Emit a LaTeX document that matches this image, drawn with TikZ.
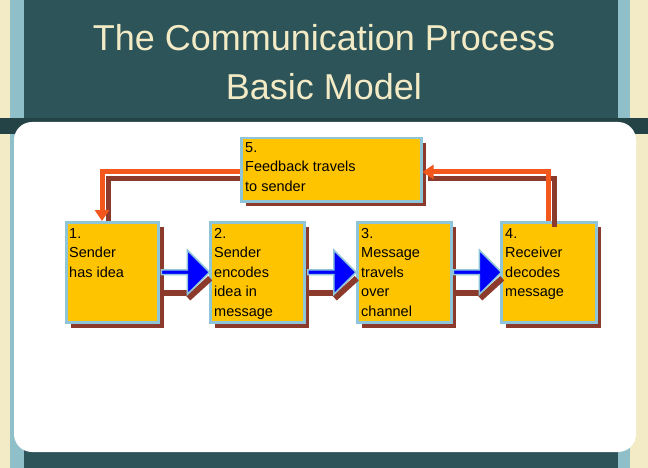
\documentclass[tikz,border=0pt]{standalone}
\usepackage{fontspec}
\setmainfont{Liberation Sans}
\usetikzlibrary{arrows.meta,shapes.arrows,calc}
\definecolor{teal0}{HTML}{2C5459}
\definecolor{cream}{HTML}{F3EBC6}
\definecolor{sideblue}{HTML}{8FBFC9}
\definecolor{boxfill}{HTML}{FFC400}
\definecolor{boxline}{HTML}{8EC5D8}
\definecolor{shad}{HTML}{8B3A2C}
\definecolor{orng}{HTML}{F4571C}
\begin{document}
\begin{tikzpicture}[x=1pt,y=-1pt,
  stepbox/.style={fill=boxfill,draw=boxline,line width=2.5pt,minimum width=92pt,minimum height=100pt,anchor=north west,inner sep=0pt},
  txt/.style={anchor=north west,align=left,font=\fontsize{14.5}{19.5}\selectfont,inner sep=0pt},
  fb/.style={draw=orng,line width=5pt},
  fbs/.style={draw=shad,line width=5pt},
  barrow/.style={single arrow,fill=blue,draw=boxline,line width=1.5pt,minimum height=48pt,minimum width=44pt,single arrow head extend=6pt,inner sep=0pt}]
\useasboundingbox (0,0) rectangle (648,468);
\fill[teal0] (0,0) rectangle (648,468);
\fill[cream] (0,0) rectangle (10,468);
\fill[sideblue] (10,0) rectangle (24,468);
\fill[sideblue] (618,0) rectangle (630,468);
\fill[cream] (630,0) rectangle (648,468);
\fill[teal0!80!black] (0,118) rectangle (648,134);
\fill[white,rounded corners=18pt] (14,122) rectangle (636,452);
\node[text=cream,font=\fontsize{36}{49}\selectfont,align=center] (title) at (324,62) {The Communication Process\\Basic Model};
% shadows
\foreach \x/\y/\w/\h in {65/221/93/101,209/221/94/101,356/221/94/101,500/221/95/101,240/137/180/63}
  \fill[shad] (\x+6,\y+6) rectangle (\x+\w+6,\y+\h+6);
\node[stepbox] (b1) at (65,221) {};
\node[stepbox,minimum width=94pt] (b2) at (209,221) {};
\node[stepbox,minimum width=94pt] (b3) at (356,221) {};
\node[stepbox,minimum width=95pt] (b4) at (500,221) {};
\node[stepbox,minimum width=180pt,minimum height=63pt] (b5) at (240,137) {};
\node[txt] (t1) at (69,228) {1.\\Sender\\has idea};
\node[txt] (t2) at (214,228) {2.\\Sender\\encodes\\idea in\\message};
\node[txt] (t3) at (361,228) {3.\\Message\\travels\\over\\channel};
\node[txt] (t4) at (505,228) {4.\\Receiver\\decodes\\message};
\node[txt] (t5) at (245,142) {5.\\Feedback travels\\to sender};
% blue arrows
\foreach \a/\b in {b1/b2,b2/b3,b3/b4}{
  \draw[shad,line width=6pt] ($(\a.east)!0.5!(\b.west)+(4,26)$) -- ++(22,-20);
  \fill[shad] ($(\a.east)!0.5!(\b.west)+(-22,18)$) rectangle ++(30,6);
  \node[barrow] at ($(\a.east)!0.5!(\b.west)$) {};
}
% feedback
\draw[fbs] (554,227) |- (428,178);
\draw[fb,-{Triangle[length=11pt,width=14pt]}] (548,221) |- (b5.east|-0,172);
\draw[fbs] (240,178) -| (108,221);
\draw[fb,-{Triangle[length=11pt,width=14pt]}] (b5.west|-0,172) -| (b1.north-|102,0);
\end{tikzpicture}
\end{document}
